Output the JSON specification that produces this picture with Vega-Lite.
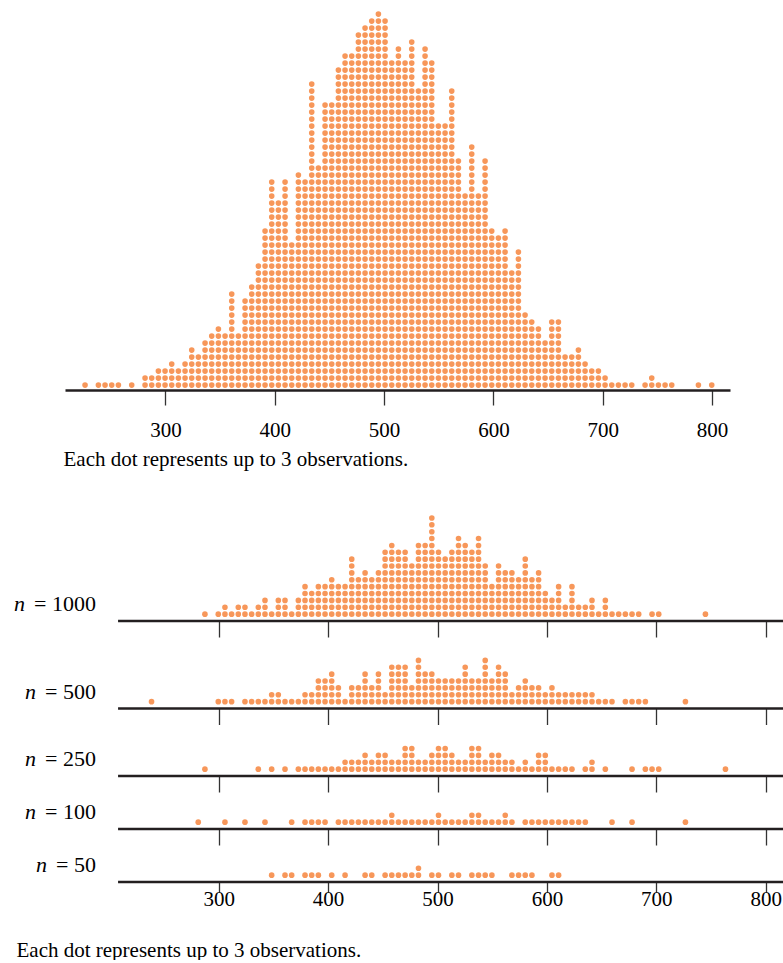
{
  "$schema": "https://vega.github.io/schema/vega-lite/v6.json",
  "background": "white",
  "padding": {"left": 14, "top": 10, "right": 0, "bottom": 0},
  "autosize": {"type": "pad"},
  "config": {
    "view": {"stroke": null},
    "font": "Liberation Serif",
    "axis": {"grid": false, "labelFont": "Liberation Serif", "titleFont": "Liberation Serif", "labelColor": "#000", "titleColor": "#000", "titleFontWeight": "normal", "tickColor": "#333", "tickWidth": 1.3, "labelFlush": false},
    "text": {"font": "Liberation Serif", "color": "#000"}
  },
  "datasets": {
    "top": [
      {"value": 226.4, "dots": 1}, {"value": 238.6, "dots": 1}, {"value": 244.7, "dots": 1}, {"value": 250.8, "dots": 1},
      {"value": 256.9, "dots": 1}, {"value": 269.1, "dots": 1}, {"value": 281.3, "dots": 2}, {"value": 287.4, "dots": 2},
      {"value": 293.5, "dots": 3}, {"value": 299.6, "dots": 3}, {"value": 305.7, "dots": 4}, {"value": 311.8, "dots": 3},
      {"value": 317.9, "dots": 4}, {"value": 324.0, "dots": 6}, {"value": 330.1, "dots": 5}, {"value": 336.2, "dots": 7},
      {"value": 342.3, "dots": 8}, {"value": 348.4, "dots": 9}, {"value": 354.5, "dots": 8}, {"value": 360.6, "dots": 14},
      {"value": 366.7, "dots": 8}, {"value": 372.8, "dots": 13}, {"value": 378.9, "dots": 15}, {"value": 385.0, "dots": 18},
      {"value": 391.1, "dots": 23}, {"value": 397.2, "dots": 30}, {"value": 403.3, "dots": 27}, {"value": 409.4, "dots": 30},
      {"value": 415.5, "dots": 21}, {"value": 421.6, "dots": 31}, {"value": 427.7, "dots": 30}, {"value": 433.8, "dots": 44},
      {"value": 439.9, "dots": 32}, {"value": 446.0, "dots": 41}, {"value": 452.1, "dots": 41}, {"value": 458.2, "dots": 46},
      {"value": 464.3, "dots": 48}, {"value": 470.4, "dots": 48}, {"value": 476.5, "dots": 51}, {"value": 482.6, "dots": 52},
      {"value": 488.7, "dots": 53}, {"value": 494.8, "dots": 54}, {"value": 500.9, "dots": 53}, {"value": 507.0, "dots": 47},
      {"value": 513.1, "dots": 49}, {"value": 519.2, "dots": 47}, {"value": 525.3, "dots": 50}, {"value": 531.4, "dots": 43},
      {"value": 537.5, "dots": 49}, {"value": 543.6, "dots": 47}, {"value": 549.7, "dots": 38}, {"value": 555.8, "dots": 38},
      {"value": 561.9, "dots": 43}, {"value": 568.0, "dots": 33}, {"value": 574.1, "dots": 28}, {"value": 580.2, "dots": 35},
      {"value": 586.3, "dots": 28}, {"value": 592.4, "dots": 33}, {"value": 598.5, "dots": 23}, {"value": 604.6, "dots": 22},
      {"value": 610.7, "dots": 23}, {"value": 616.8, "dots": 17}, {"value": 622.9, "dots": 20}, {"value": 629.0, "dots": 11},
      {"value": 635.1, "dots": 10}, {"value": 641.2, "dots": 9}, {"value": 647.3, "dots": 7}, {"value": 653.4, "dots": 10},
      {"value": 659.5, "dots": 10}, {"value": 665.6, "dots": 5}, {"value": 671.7, "dots": 5}, {"value": 677.8, "dots": 6},
      {"value": 683.9, "dots": 4}, {"value": 690.0, "dots": 3}, {"value": 696.1, "dots": 3}, {"value": 702.2, "dots": 2},
      {"value": 708.3, "dots": 1}, {"value": 714.4, "dots": 1}, {"value": 720.5, "dots": 1}, {"value": 726.6, "dots": 1},
      {"value": 738.8, "dots": 1}, {"value": 744.9, "dots": 2}, {"value": 751.0, "dots": 1}, {"value": 757.1, "dots": 1},
      {"value": 763.2, "dots": 1}, {"value": 787.6, "dots": 1}, {"value": 799.8, "dots": 1}
    ],
    "n1000": [
      {"value": 287.4, "dots": 1}, {"value": 299.6, "dots": 1}, {"value": 305.7, "dots": 2}, {"value": 311.8, "dots": 1},
      {"value": 317.9, "dots": 2}, {"value": 324.0, "dots": 2}, {"value": 330.1, "dots": 1}, {"value": 336.2, "dots": 2},
      {"value": 342.3, "dots": 3}, {"value": 348.4, "dots": 1}, {"value": 354.5, "dots": 3}, {"value": 360.6, "dots": 3},
      {"value": 366.7, "dots": 1}, {"value": 372.8, "dots": 3}, {"value": 378.9, "dots": 5}, {"value": 385.0, "dots": 4},
      {"value": 391.1, "dots": 5}, {"value": 397.2, "dots": 5}, {"value": 403.3, "dots": 6}, {"value": 409.4, "dots": 5},
      {"value": 415.5, "dots": 5}, {"value": 421.6, "dots": 9}, {"value": 427.7, "dots": 6}, {"value": 433.8, "dots": 7},
      {"value": 439.9, "dots": 6}, {"value": 446.0, "dots": 7}, {"value": 452.1, "dots": 10}, {"value": 458.2, "dots": 11},
      {"value": 464.3, "dots": 10}, {"value": 470.4, "dots": 10}, {"value": 476.5, "dots": 8}, {"value": 482.6, "dots": 11},
      {"value": 488.7, "dots": 11}, {"value": 494.8, "dots": 15}, {"value": 500.9, "dots": 10}, {"value": 507.0, "dots": 9},
      {"value": 513.1, "dots": 10}, {"value": 519.2, "dots": 12}, {"value": 525.3, "dots": 11}, {"value": 531.4, "dots": 10},
      {"value": 537.5, "dots": 12}, {"value": 543.6, "dots": 8}, {"value": 549.7, "dots": 5}, {"value": 555.8, "dots": 8},
      {"value": 561.9, "dots": 7}, {"value": 568.0, "dots": 7}, {"value": 574.1, "dots": 6}, {"value": 580.2, "dots": 9},
      {"value": 586.3, "dots": 6}, {"value": 592.4, "dots": 7}, {"value": 598.5, "dots": 4}, {"value": 604.6, "dots": 3},
      {"value": 610.7, "dots": 5}, {"value": 616.8, "dots": 2}, {"value": 622.9, "dots": 5}, {"value": 629.0, "dots": 2},
      {"value": 635.1, "dots": 2}, {"value": 641.2, "dots": 3}, {"value": 647.3, "dots": 1}, {"value": 653.4, "dots": 3},
      {"value": 659.5, "dots": 1}, {"value": 665.6, "dots": 1}, {"value": 671.7, "dots": 1}, {"value": 677.8, "dots": 1},
      {"value": 683.9, "dots": 1}, {"value": 696.1, "dots": 1}, {"value": 702.2, "dots": 1}, {"value": 744.9, "dots": 1}
    ],
    "n500": [
      {"value": 238.6, "dots": 1}, {"value": 299.6, "dots": 1}, {"value": 305.7, "dots": 1}, {"value": 311.8, "dots": 1},
      {"value": 324.0, "dots": 1}, {"value": 330.1, "dots": 1}, {"value": 336.2, "dots": 1}, {"value": 342.3, "dots": 1},
      {"value": 348.4, "dots": 2}, {"value": 354.5, "dots": 2}, {"value": 360.6, "dots": 1}, {"value": 366.7, "dots": 1},
      {"value": 372.8, "dots": 1}, {"value": 378.9, "dots": 2}, {"value": 385.0, "dots": 2}, {"value": 391.1, "dots": 4},
      {"value": 397.2, "dots": 4}, {"value": 403.3, "dots": 5}, {"value": 409.4, "dots": 3}, {"value": 415.5, "dots": 1},
      {"value": 421.6, "dots": 3}, {"value": 427.7, "dots": 3}, {"value": 433.8, "dots": 5}, {"value": 439.9, "dots": 3},
      {"value": 446.0, "dots": 5}, {"value": 452.1, "dots": 2}, {"value": 458.2, "dots": 6}, {"value": 464.3, "dots": 6},
      {"value": 470.4, "dots": 6}, {"value": 476.5, "dots": 3}, {"value": 482.6, "dots": 7}, {"value": 488.7, "dots": 5},
      {"value": 494.8, "dots": 5}, {"value": 500.9, "dots": 4}, {"value": 507.0, "dots": 4}, {"value": 513.1, "dots": 4},
      {"value": 519.2, "dots": 4}, {"value": 525.3, "dots": 6}, {"value": 531.4, "dots": 4}, {"value": 537.5, "dots": 4},
      {"value": 543.6, "dots": 7}, {"value": 549.7, "dots": 4}, {"value": 555.8, "dots": 6}, {"value": 561.9, "dots": 5},
      {"value": 568.0, "dots": 2}, {"value": 574.1, "dots": 3}, {"value": 580.2, "dots": 4}, {"value": 586.3, "dots": 3},
      {"value": 592.4, "dots": 3}, {"value": 598.5, "dots": 2}, {"value": 604.6, "dots": 3}, {"value": 610.7, "dots": 2},
      {"value": 616.8, "dots": 2}, {"value": 622.9, "dots": 2}, {"value": 629.0, "dots": 2}, {"value": 635.1, "dots": 2},
      {"value": 641.2, "dots": 2}, {"value": 647.3, "dots": 1}, {"value": 653.4, "dots": 1}, {"value": 659.5, "dots": 1},
      {"value": 671.7, "dots": 1}, {"value": 677.8, "dots": 1}, {"value": 683.9, "dots": 1}, {"value": 690.0, "dots": 1},
      {"value": 726.6, "dots": 1}
    ],
    "n250": [
      {"value": 287.4, "dots": 1}, {"value": 336.2, "dots": 1}, {"value": 348.4, "dots": 1}, {"value": 360.6, "dots": 1},
      {"value": 372.8, "dots": 1}, {"value": 378.9, "dots": 1}, {"value": 385.0, "dots": 1}, {"value": 391.1, "dots": 1},
      {"value": 397.2, "dots": 1}, {"value": 403.3, "dots": 1}, {"value": 409.4, "dots": 1}, {"value": 415.5, "dots": 2},
      {"value": 421.6, "dots": 2}, {"value": 427.7, "dots": 2}, {"value": 433.8, "dots": 3}, {"value": 439.9, "dots": 2},
      {"value": 446.0, "dots": 3}, {"value": 452.1, "dots": 3}, {"value": 458.2, "dots": 2}, {"value": 464.3, "dots": 2},
      {"value": 470.4, "dots": 4}, {"value": 476.5, "dots": 4}, {"value": 482.6, "dots": 2}, {"value": 488.7, "dots": 2},
      {"value": 494.8, "dots": 3}, {"value": 500.9, "dots": 4}, {"value": 507.0, "dots": 4}, {"value": 513.1, "dots": 3},
      {"value": 519.2, "dots": 2}, {"value": 525.3, "dots": 2}, {"value": 531.4, "dots": 4}, {"value": 537.5, "dots": 4},
      {"value": 543.6, "dots": 2}, {"value": 549.7, "dots": 3}, {"value": 555.8, "dots": 3}, {"value": 561.9, "dots": 2},
      {"value": 568.0, "dots": 2}, {"value": 574.1, "dots": 1}, {"value": 580.2, "dots": 2}, {"value": 586.3, "dots": 1},
      {"value": 592.4, "dots": 3}, {"value": 598.5, "dots": 3}, {"value": 604.6, "dots": 1}, {"value": 610.7, "dots": 1},
      {"value": 616.8, "dots": 1}, {"value": 622.9, "dots": 1}, {"value": 635.1, "dots": 1}, {"value": 641.2, "dots": 2},
      {"value": 653.4, "dots": 1}, {"value": 677.8, "dots": 1}, {"value": 690.0, "dots": 1}, {"value": 696.1, "dots": 1},
      {"value": 702.2, "dots": 1}, {"value": 763.2, "dots": 1}
    ],
    "n100": [
      {"value": 281.3, "dots": 1}, {"value": 305.7, "dots": 1}, {"value": 324.0, "dots": 1}, {"value": 342.3, "dots": 1},
      {"value": 366.7, "dots": 1}, {"value": 378.9, "dots": 1}, {"value": 385.0, "dots": 1}, {"value": 391.1, "dots": 1},
      {"value": 397.2, "dots": 1}, {"value": 409.4, "dots": 1}, {"value": 415.5, "dots": 1}, {"value": 421.6, "dots": 1},
      {"value": 427.7, "dots": 1}, {"value": 433.8, "dots": 1}, {"value": 439.9, "dots": 1}, {"value": 446.0, "dots": 1},
      {"value": 452.1, "dots": 1}, {"value": 458.2, "dots": 2}, {"value": 464.3, "dots": 1}, {"value": 470.4, "dots": 1},
      {"value": 476.5, "dots": 1}, {"value": 482.6, "dots": 1}, {"value": 488.7, "dots": 1}, {"value": 494.8, "dots": 1},
      {"value": 500.9, "dots": 2}, {"value": 507.0, "dots": 1}, {"value": 513.1, "dots": 1}, {"value": 519.2, "dots": 1},
      {"value": 525.3, "dots": 1}, {"value": 531.4, "dots": 2}, {"value": 537.5, "dots": 2}, {"value": 543.6, "dots": 1},
      {"value": 549.7, "dots": 1}, {"value": 555.8, "dots": 1}, {"value": 561.9, "dots": 2}, {"value": 568.0, "dots": 1},
      {"value": 580.2, "dots": 1}, {"value": 586.3, "dots": 1}, {"value": 592.4, "dots": 1}, {"value": 598.5, "dots": 1},
      {"value": 604.6, "dots": 1}, {"value": 610.7, "dots": 1}, {"value": 616.8, "dots": 1}, {"value": 622.9, "dots": 1},
      {"value": 629.0, "dots": 1}, {"value": 635.1, "dots": 1}, {"value": 659.5, "dots": 1}, {"value": 677.8, "dots": 1},
      {"value": 726.6, "dots": 1}
    ],
    "n50": [
      {"value": 348.4, "dots": 1}, {"value": 360.6, "dots": 1}, {"value": 366.7, "dots": 1}, {"value": 378.9, "dots": 1},
      {"value": 385.0, "dots": 1}, {"value": 391.1, "dots": 1}, {"value": 403.3, "dots": 1}, {"value": 415.5, "dots": 1},
      {"value": 433.8, "dots": 1}, {"value": 439.9, "dots": 1}, {"value": 452.1, "dots": 1}, {"value": 458.2, "dots": 1},
      {"value": 464.3, "dots": 1}, {"value": 470.4, "dots": 1}, {"value": 476.5, "dots": 1}, {"value": 482.6, "dots": 2},
      {"value": 494.8, "dots": 1}, {"value": 500.9, "dots": 1}, {"value": 513.1, "dots": 1}, {"value": 519.2, "dots": 1},
      {"value": 531.4, "dots": 1}, {"value": 537.5, "dots": 1}, {"value": 543.6, "dots": 1}, {"value": 549.7, "dots": 1},
      {"value": 568.0, "dots": 1}, {"value": 574.1, "dots": 1}, {"value": 580.2, "dots": 1}, {"value": 586.3, "dots": 1},
      {"value": 604.6, "dots": 1}, {"value": 610.7, "dots": 1}
    ]
  },
  "spacing": 0,
  "bounds": "flush",
  "vconcat": [
    {
      "width": 665,
      "height": 380,
      "data": {"name": "top"},
      "mark": {"type": "rule", "color": "#f7975a", "strokeWidth": 5.6, "strokeCap": "round", "strokeDash": [0, 7]},
      "encoding": {
        "x": {"field": "value", "type": "quantitative",
          "scale": {"domain": [208.05, 816.5], "nice": false, "zero": false},
          "axis": {"values": [300, 400, 500, 600, 700, 800], "domain": true, "domainColor": "#231f20", "domainWidth": 2.6,
            "tickSize": 15, "labelFont": "Liberation Serif", "labelFontSize": 21, "labelBaseline": "alphabetic", "labelPadding": 31,
            "title": "Each dot represents up to 3 observations.", "titleFont": "Liberation Serif", "titleFontSize": 21, "titleAlign": "left",
            "titleBaseline": "alphabetic", "titleX": -2, "titleY": 75.5}},
        "y": {"field": "dots", "type": "quantitative", "scale": {"domain": [0.3, 54.5857], "nice": false, "zero": false}, "axis": null},
        "y2": {"datum": 0.7}
      }
    },
    {
      "width": 718,
      "height": 231,
      "layer": [
        {"data": {"values": [{"line": "axis"}]}, "mark": {"type": "rule", "color": "#231f20", "strokeWidth": 2.6},
          "encoding": {"x": {"datum": 208, "type": "quantitative", "scale": {"domain": [159.5, 815.8], "nice": false, "zero": false},
            "axis": {"values": [300, 400, 500, 600, 700, 800], "domain": false, "tickSize": 16, "labels": false, "title": null}},
            "x2": {"datum": 815.8}, "y": {"datum": 0, "type": "quantitative", "scale": {"domain": [0, 33.624], "nice": false, "zero": false}, "axis": null}}},
        {"data": {"name": "n1000"}, "mark": {"type": "rule", "color": "#f7975a", "strokeWidth": 5.6, "strokeCap": "round", "strokeDash": [0, 6.87]},
          "encoding": {"x": {"field": "value", "type": "quantitative"}, "y": {"field": "dots", "type": "quantitative"}, "y2": {"datum": 0.7}}},
        {"data": {"values": [{"sym": "n", "rest": "= 1000"}]}, "mark": {"type": "text", "align": "right", "baseline": "alphabetic", "fontSize": 22, "font": "Liberation Serif"},
          "encoding": {"x": {"datum": 187.84}, "y": {"datum": 1.5}, "text": {"field": "rest"}}},
        {"data": {"values": [{"sym": "n", "rest": "= 1000"}]}, "mark": {"type": "text", "align": "right", "baseline": "alphabetic", "fontSize": 22, "font": "Liberation Serif", "fontStyle": "italic", "dx": -71},
          "encoding": {"x": {"datum": 187.84}, "y": {"datum": 1.5}, "text": {"field": "sym"}}}
      ]
    },
    {
      "width": 718,
      "height": 87.5,
      "layer": [
        {"data": {"values": [{"line": "axis"}]}, "mark": {"type": "rule", "color": "#231f20", "strokeWidth": 2.6},
          "encoding": {"x": {"datum": 208, "type": "quantitative", "scale": {"domain": [159.5, 815.8], "nice": false, "zero": false},
            "axis": {"values": [300, 400, 500, 600, 700, 800], "domain": false, "tickSize": 16, "labels": false, "title": null}},
            "x2": {"datum": 815.8}, "y": {"datum": 0, "type": "quantitative", "scale": {"domain": [0, 12.737], "nice": false, "zero": false}, "axis": null}}},
        {"data": {"name": "n500"}, "mark": {"type": "rule", "color": "#f7975a", "strokeWidth": 5.6, "strokeCap": "round", "strokeDash": [0, 6.87]},
          "encoding": {"x": {"field": "value", "type": "quantitative"}, "y": {"field": "dots", "type": "quantitative"}, "y2": {"datum": 0.7}}},
        {"data": {"values": [{"sym": "n", "rest": "= 500"}]}, "mark": {"type": "text", "align": "right", "baseline": "alphabetic", "fontSize": 22, "font": "Liberation Serif"},
          "encoding": {"x": {"datum": 187.84}, "y": {"datum": 1.4}, "text": {"field": "rest"}}},
        {"data": {"values": [{"sym": "n", "rest": "= 500"}]}, "mark": {"type": "text", "align": "right", "baseline": "alphabetic", "fontSize": 22, "font": "Liberation Serif", "fontStyle": "italic", "dx": -60},
          "encoding": {"x": {"datum": 187.84}, "y": {"datum": 1.4}, "text": {"field": "sym"}}}
      ]
    },
    {
      "width": 718,
      "height": 67,
      "layer": [
        {"data": {"values": [{"line": "axis"}]}, "mark": {"type": "rule", "color": "#231f20", "strokeWidth": 2.6},
          "encoding": {"x": {"datum": 208, "type": "quantitative", "scale": {"domain": [159.5, 815.8], "nice": false, "zero": false},
            "axis": {"values": [300, 400, 500, 600, 700, 800], "domain": false, "tickSize": 16, "labels": false, "title": null}},
            "x2": {"datum": 815.8}, "y": {"datum": 0, "type": "quantitative", "scale": {"domain": [0, 9.753], "nice": false, "zero": false}, "axis": null}}},
        {"data": {"name": "n250"}, "mark": {"type": "rule", "color": "#f7975a", "strokeWidth": 5.6, "strokeCap": "round", "strokeDash": [0, 6.87]},
          "encoding": {"x": {"field": "value", "type": "quantitative"}, "y": {"field": "dots", "type": "quantitative"}, "y2": {"datum": 0.7}}},
        {"data": {"values": [{"sym": "n", "rest": "= 250"}]}, "mark": {"type": "text", "align": "right", "baseline": "alphabetic", "fontSize": 22, "font": "Liberation Serif"},
          "encoding": {"x": {"datum": 187.84}, "y": {"datum": 1.4}, "text": {"field": "rest"}}},
        {"data": {"values": [{"sym": "n", "rest": "= 250"}]}, "mark": {"type": "text", "align": "right", "baseline": "alphabetic", "fontSize": 22, "font": "Liberation Serif", "fontStyle": "italic", "dx": -60},
          "encoding": {"x": {"datum": 187.84}, "y": {"datum": 1.4}, "text": {"field": "sym"}}}
      ]
    },
    {
      "width": 718,
      "height": 53,
      "layer": [
        {"data": {"values": [{"line": "axis"}]}, "mark": {"type": "rule", "color": "#231f20", "strokeWidth": 2.6},
          "encoding": {"x": {"datum": 208, "type": "quantitative", "scale": {"domain": [159.5, 815.8], "nice": false, "zero": false},
            "axis": {"values": [300, 400, 500, 600, 700, 800], "domain": false, "tickSize": 16, "labels": false, "title": null}},
            "x2": {"datum": 815.8}, "y": {"datum": 0, "type": "quantitative", "scale": {"domain": [0, 7.715], "nice": false, "zero": false}, "axis": null}}},
        {"data": {"name": "n100"}, "mark": {"type": "rule", "color": "#f7975a", "strokeWidth": 5.6, "strokeCap": "round", "strokeDash": [0, 6.87]},
          "encoding": {"x": {"field": "value", "type": "quantitative"}, "y": {"field": "dots", "type": "quantitative"}, "y2": {"datum": 0.7}}},
        {"data": {"values": [{"sym": "n", "rest": "= 100"}]}, "mark": {"type": "text", "align": "right", "baseline": "alphabetic", "fontSize": 22, "font": "Liberation Serif"},
          "encoding": {"x": {"datum": 187.84}, "y": {"datum": 1.4}, "text": {"field": "rest"}}},
        {"data": {"values": [{"sym": "n", "rest": "= 100"}]}, "mark": {"type": "text", "align": "right", "baseline": "alphabetic", "fontSize": 22, "font": "Liberation Serif", "fontStyle": "italic", "dx": -60},
          "encoding": {"x": {"datum": 187.84}, "y": {"datum": 1.4}, "text": {"field": "sym"}}}
      ]
    },
    {
      "width": 718,
      "height": 53,
      "layer": [
        {"data": {"values": [{"line": "axis"}]}, "mark": {"type": "rule", "color": "#231f20", "strokeWidth": 2.6},
          "encoding": {"x": {"datum": 208, "type": "quantitative", "scale": {"domain": [159.5, 815.8], "nice": false, "zero": false},
            "axis": {"values": [300, 400, 500, 600, 700, 800], "domain": false, "tickSize": 10, "labelFont": "Liberation Serif", "labelFontSize": 21, "labelBaseline": "alphabetic", "labelPadding": 13,
              "title": "Each dot represents up to 3 observations.", "titleFont": "Liberation Serif", "titleFontSize": 21, "titleAlign": "left",
              "titleBaseline": "alphabetic", "titleX": -49, "titleY": 74}},
            "x2": {"datum": 815.8}, "y": {"datum": 0, "type": "quantitative", "scale": {"domain": [0, 7.715], "nice": false, "zero": false}, "axis": null}}},
        {"data": {"name": "n50"}, "mark": {"type": "rule", "color": "#f7975a", "strokeWidth": 5.6, "strokeCap": "round", "strokeDash": [0, 6.87]},
          "encoding": {"x": {"field": "value", "type": "quantitative"}, "y": {"field": "dots", "type": "quantitative"}, "y2": {"datum": 0.7}}},
        {"data": {"values": [{"sym": "n", "rest": "= 50"}]}, "mark": {"type": "text", "align": "right", "baseline": "alphabetic", "fontSize": 22, "font": "Liberation Serif"},
          "encoding": {"x": {"datum": 187.84}, "y": {"datum": 1.4}, "text": {"field": "rest"}}},
        {"data": {"values": [{"sym": "n", "rest": "= 50"}]}, "mark": {"type": "text", "align": "right", "baseline": "alphabetic", "fontSize": 22, "font": "Liberation Serif", "fontStyle": "italic", "dx": -49},
          "encoding": {"x": {"datum": 187.84}, "y": {"datum": 1.4}, "text": {"field": "sym"}}}
      ]
    }
  ]
}
